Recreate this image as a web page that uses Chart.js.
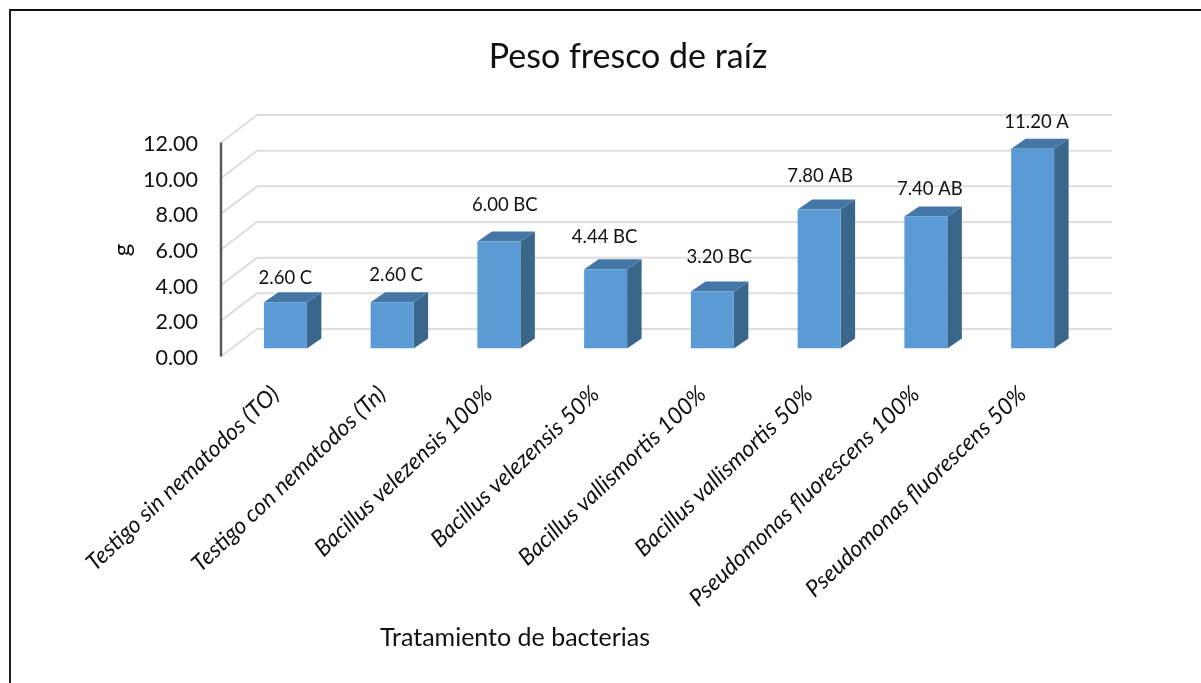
<!DOCTYPE html>
<html><head><meta charset="utf-8">
<style>
html,body{margin:0;padding:0;background:#fff;overflow:hidden}
#wrap{position:absolute;left:0;top:0;width:1201px;height:683px;overflow:hidden}
#frame{position:absolute;left:9px;top:9px;width:1300px;height:800px;border-top:2px solid #111;border-left:2px solid #222;box-sizing:border-box}
canvas{position:absolute;left:0;top:0}
</style>
<script src="https://cdn.jsdelivr.net/npm/chart.js@4"></script>
</head><body>
<div id="wrap"><div id="frame"></div><canvas id="c" width="1201" height="683"></canvas></div>
<script>
const categories = ["Testigo sin nematodos (TO)","Testigo con nematodos (Tn)","Bacillus velezensis 100%","Bacillus velezensis 50%","Bacillus vallismortis 100%","Bacillus vallismortis 50%","Pseudomonas fluorescens 100%","Pseudomonas fluorescens 50%"];
const values = [2.60,2.60,6.00,4.44,3.20,7.80,7.40,11.20];
const letters = ["C","C","BC","BC","BC","AB","AB","A"];
const tickValues = [0,2,4,6,8,10,12];
const titleText = "Peso fresco de raíz";
const xTitleText = "Tratamiento de bacterias";
const yTitleText = "g";
// label layout nudges (pixels from the bar's centre / top)
const labelDx = [0,4,6,-1,7,1,4,4];
const labelDy = [24,27,36,32,34,33,28,27];

const FONT = "Lato, Carlito, sans-serif";
const FRONT="#5B9BD5", SIDE="#3A668C", TOP="#4577A6", GRID="#DEDEDE", AXIS="#595959";

const scene3d = {
  id:"scene3d",
  afterLayout(chart){ chart.scales.y.left = 100; },
  beforeDatasetsDraw(chart){
    const {ctx,scales:{x,y}} = chart;
    ctx.save();
    ctx.strokeStyle=GRID; ctx.lineWidth=2;
    tickValues.forEach(v=>{
      const p=y.getPixelForValue(v);
      ctx.beginPath();
      ctx.moveTo(221,p+8);ctx.lineTo(257,p-19.5);ctx.lineTo(1112,p-19.5);
      ctx.stroke();
    });
    const a=y.getPixelForValue(12), b=y.getPixelForValue(0);
    ctx.strokeStyle=AXIS; ctx.lineWidth=2.5;
    ctx.beginPath();ctx.moveTo(221,a+8);ctx.lineTo(221,b+8);ctx.stroke();
    chart.getDatasetMeta(0).data.forEach(el=>{
      const l=el.x-el.width/2, r=el.x+el.width/2, t=el.y, bt=el.base, dx=14.5, dy=10;
      ctx.fillStyle=SIDE;
      ctx.beginPath();ctx.moveTo(r,t);ctx.lineTo(r+dx,t-dy);ctx.lineTo(r+dx,bt-dy);ctx.lineTo(r,bt);ctx.closePath();ctx.fill();
      ctx.fillStyle=TOP;
      ctx.beginPath();ctx.moveTo(l,t);ctx.lineTo(l+dx,t-dy);ctx.lineTo(r+dx,t-dy);ctx.lineTo(r,t);ctx.closePath();ctx.fill();
    });
    ctx.restore();
  },
  afterDraw(chart){
    const {ctx} = chart;
    ctx.save();
    ctx.fillStyle="#111";ctx.textAlign="center";ctx.textBaseline="middle";
    ctx.font="18.5px "+FONT;
    chart.getDatasetMeta(0).data.forEach((el,i)=>{
      ctx.fillText(values[i].toFixed(2)+" "+letters[i], el.x+labelDx[i], el.y-labelDy[i]);
    });
    ctx.font="25px "+FONT;
    ctx.fillText(xTitleText,515,638);
    ctx.translate(122,250);ctx.rotate(-Math.PI/2);
    ctx.font="24px "+FONT;
    ctx.fillText(yTitleText,0,0);
    ctx.restore();
  }
};

new Chart(document.getElementById("c"),{
  type:"bar",
  data:{labels:categories,datasets:[{data:values,backgroundColor:FRONT,borderWidth:0,barPercentage:0.805,categoryPercentage:0.5}]},
  plugins:[scene3d],
  options:{
    responsive:false,animation:false,
    layout:{padding:{left:170,right:115,top:0,bottom:0}},
    plugins:{
      legend:{display:false},tooltip:{enabled:false},
      title:{display:true,text:titleText,color:"#111",font:{family:FONT,size:34,weight:"normal"},padding:{top:37,bottom:56.7}}
    },
    scales:{
      x:{
        grid:{display:false,drawTicks:false},border:{display:false},
        ticks:{autoSkip:false,maxRotation:43.5,minRotation:43.5,padding:32,labelOffset:-10,color:"#111",font:{family:FONT,size:23,style:"italic"}},
        afterFit(s){s.height=334.5;s.paddingLeft=0;s.paddingRight=0;}
      },
      y:{
        min:0,max:12,
        afterBuildTicks(s){s.ticks=tickValues.map(v=>({value:v}));},
        grid:{display:false,drawTicks:false},border:{display:false},
        ticks:{padding:34,labelOffset:9.5,color:"#111",font:{family:FONT,size:21.5},callback:v=>Number(v).toFixed(2)},
        afterFit(s){s.width=62;}
      }
    }
  }
});
</script>
</body></html>
